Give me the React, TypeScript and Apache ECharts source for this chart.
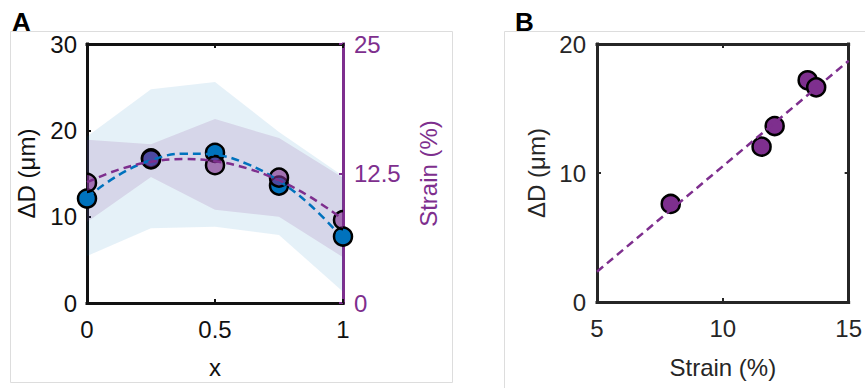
import React, { useEffect, useRef } from "react";
import * as echarts from "echarts";

// ---------- Panel A data ----------
const xPos = [0, 0.25, 0.5, 0.75, 1];
const deltaD = [12.1, 16.76, 17.4, 13.6, 7.7];
const strain = [11.6, 13.87, 13.3, 12.1, 8.0];
const deltaDUpper = [19.3, 24.75, 25.6, 19.8, 14.7];
const deltaDLower = [5.44, 8.65, 8.84, 7.88, 1.3];
const strainUpper = [15.75, 15.33, 17.75, 15.92, 12.08];
const strainLower = [7.83, 12.17, 9.0, 8.33, 4.42];
const fitX = [0, 0.125, 0.25, 0.375, 0.5, 0.625, 0.75, 0.875, 1];
const deltaDFit = [12.25, 14.85, 16.53, 17.3, 17.16, 16.11, 14.14, 11.26, 7.47];
const strainFit = [11.66, 12.88, 13.63, 13.89, 13.68, 13.0, 11.83, 10.19, 8.07];
const xTicksA = { min: 0, max: 1, interval: 0.5 };
const leftTicksA = { min: 0, max: 30, interval: 10 };
const rightTicksA = { min: 0, max: 25, interval: 12.5 };

// ---------- Panel B data ----------
const strainB = [7.93, 11.54, 12.06, 13.37, 13.71];
const deltaDB = [7.6, 12.04, 13.64, 17.19, 16.64];
const fitLineStrain = [5, 15];
const fitLineDeltaD = [2.35, 18.7];
const xTicksB = { min: 5, max: 15, interval: 5 };
const yTicksB = { min: 0, max: 20, interval: 10 };

const FONT = "'Liberation Sans', Arial, Helvetica, sans-serif";
const BLUE = "#0072BD";
const PURPLE = "#7E2F8E";
const DARK = "#262626";
const BLACK = "#111111";

function axisCommon(color: string, showLabel: boolean, margin: number) {
  return {
    splitLine: { show: false },
    axisLine: { show: true, onZero: false, lineStyle: { color, width: 3, cap: "square" } },
    axisTick: { show: true, inside: true, length: 4, lineStyle: { color, width: 2 } },
    axisLabel: { show: showLabel, color, fontSize: 24, fontFamily: FONT, margin },
    nameTextStyle: { color, fontSize: 24, fontFamily: FONT },
  };
}

function bandSeries(upper: number[], lower: number[], yIdx: number, fill: string) {
  return {
    type: "custom",
    xAxisIndex: 0,
    yAxisIndex: yIdx,
    silent: true,
    clip: false,
    z: 1,
    data: [[xPos[0], lower[0]]],
    renderItem: (_params: any, api: any) => {
      const pts: number[][] = [];
      for (let i = 0; i < xPos.length; i++) pts.push(api.coord([xPos[i], upper[i]]));
      for (let i = xPos.length - 1; i >= 0; i--) pts.push(api.coord([xPos[i], lower[i]]));
      return { type: "polygon", shape: { points: pts }, style: { fill } };
    },
  };
}

export default function App() {
  const ref = useRef<HTMLDivElement>(null);
  useEffect(() => {
    if (!ref.current) return;
    const chart = echarts.init(ref.current, undefined, { renderer: "svg" });
    const option: any = {
      animation: false,
      backgroundColor: "#ffffff",
      textStyle: { fontFamily: FONT },
      grid: [
        { left: 87, top: 44, width: 256, height: 259, containLabel: false },
        { left: 597, top: 44, width: 255, height: 258, containLabel: false },
      ],
      xAxis: [
        {
          gridIndex: 0, type: "value", position: "bottom", ...xTicksA,
          ...axisCommon(BLACK, true, 14),
          name: "x", nameLocation: "middle", nameGap: 52,
        },
        { gridIndex: 0, type: "value", position: "top", ...xTicksA, ...axisCommon(BLACK, false, 8) },
        {
          gridIndex: 1, type: "value", position: "bottom", ...xTicksB,
          ...axisCommon(DARK, true, 14),
          name: "Strain (%)", nameLocation: "middle", nameGap: 53,
        },
        { gridIndex: 1, type: "value", position: "top", ...xTicksB, ...axisCommon(DARK, false, 8) },
      ],
      yAxis: [
        {
          gridIndex: 0, type: "value", position: "left", ...leftTicksA,
          ...axisCommon(BLACK, true, 10),
          name: "ΔD (μm)", nameLocation: "middle", nameGap: 49,
        },
        {
          gridIndex: 0, type: "value", position: "right", ...rightTicksA,
          ...axisCommon(PURPLE, true, 11),
          name: "Strain (%)", nameLocation: "middle", nameGap: 73,
        },
        {
          gridIndex: 1, type: "value", position: "left", ...yTicksB,
          ...axisCommon(DARK, true, 11),
          name: "ΔD (μm)", nameLocation: "middle", nameGap: 49,
        },
        { gridIndex: 1, type: "value", position: "right", ...yTicksB, ...axisCommon(DARK, false, 8) },
      ],
      series: [
        bandSeries(deltaDUpper, deltaDLower, 0, "rgba(0,114,189,0.10)"),
        bandSeries(strainUpper, strainLower, 1, "rgba(126,47,142,0.14)"),
        {
          type: "scatter", xAxisIndex: 0, yAxisIndex: 0, clip: false, z: 3,
          symbol: "circle", symbolSize: 18,
          itemStyle: { color: BLUE, borderColor: "#000", borderWidth: 2.5, opacity: 1 },
          data: xPos.map((x, i) => [x, deltaD[i]]),
        },
        {
          type: "custom", xAxisIndex: 0, yAxisIndex: 1, clip: false, z: 4, silent: true,
          data: xPos.map((x, i) => [x, strain[i]]),
          renderItem: (params: any, api: any) => {
            const c = api.coord([api.value(0), api.value(1)]);
            const cs = params.coordSys;
            return {
              type: "circle",
              shape: { cx: c[0], cy: c[1], r: 9 },
              style: { fill: "rgba(126,47,142,0.6)", stroke: "#000", lineWidth: 2.5 },
              clipPath: { type: "rect", shape: { x: cs.x, y: cs.y, width: cs.width, height: cs.height } },
            };
          },
        },
        {
          type: "line", xAxisIndex: 0, yAxisIndex: 0, z: 5, smooth: 0.4, showSymbol: false, symbol: "none",
          lineStyle: { color: BLUE, width: 2.5, type: [8, 5] },
          data: fitX.map((x, i) => [x, deltaDFit[i]]),
        },
        {
          type: "line", xAxisIndex: 0, yAxisIndex: 1, z: 5, smooth: 0.4, showSymbol: false, symbol: "none",
          lineStyle: { color: PURPLE, width: 2.5, type: [8, 5] },
          data: fitX.map((x, i) => [x, strainFit[i]]),
        },
        {
          type: "scatter", xAxisIndex: 2, yAxisIndex: 2, z: 3, clip: false,
          symbol: "circle", symbolSize: 18,
          itemStyle: { color: PURPLE, borderColor: "#000", borderWidth: 2.5, opacity: 1 },
          data: strainB.map((s, i) => [s, deltaDB[i]]),
        },
        {
          type: "line", xAxisIndex: 2, yAxisIndex: 2, z: 5, showSymbol: false, symbol: "none",
          lineStyle: { color: PURPLE, width: 2.5, type: [8, 5] },
          data: fitLineStrain.map((s, i) => [s, fitLineDeltaD[i]]),
        },
      ],
      graphic: [
        { type: "rect", silent: true, z: -1, shape: { x: 10.5, y: 31.5, width: 442, height: 351 },
          style: { fill: "none", stroke: "#dddddd", lineWidth: 1 } },
        { type: "rect", silent: true, z: -1, shape: { x: 504.5, y: 31.5, width: 420, height: 420 },
          style: { fill: "none", stroke: "#dddddd", lineWidth: 1 } },
        { type: "text", x: 12, y: 21.5, style: { text: "A", font: `bold 26px ${FONT}`, fill: "#000", textVerticalAlign: "middle" } },
        { type: "text", x: 515, y: 21.5, style: { text: "B", font: `bold 26px ${FONT}`, fill: "#000", textVerticalAlign: "middle" } },
      ],
    };
    chart.setOption(option);
    return () => chart.dispose();
  }, []);
  return <div ref={ref} style={{ position: "fixed", left: 0, top: 0, width: 865, height: 388 }} />;
}
